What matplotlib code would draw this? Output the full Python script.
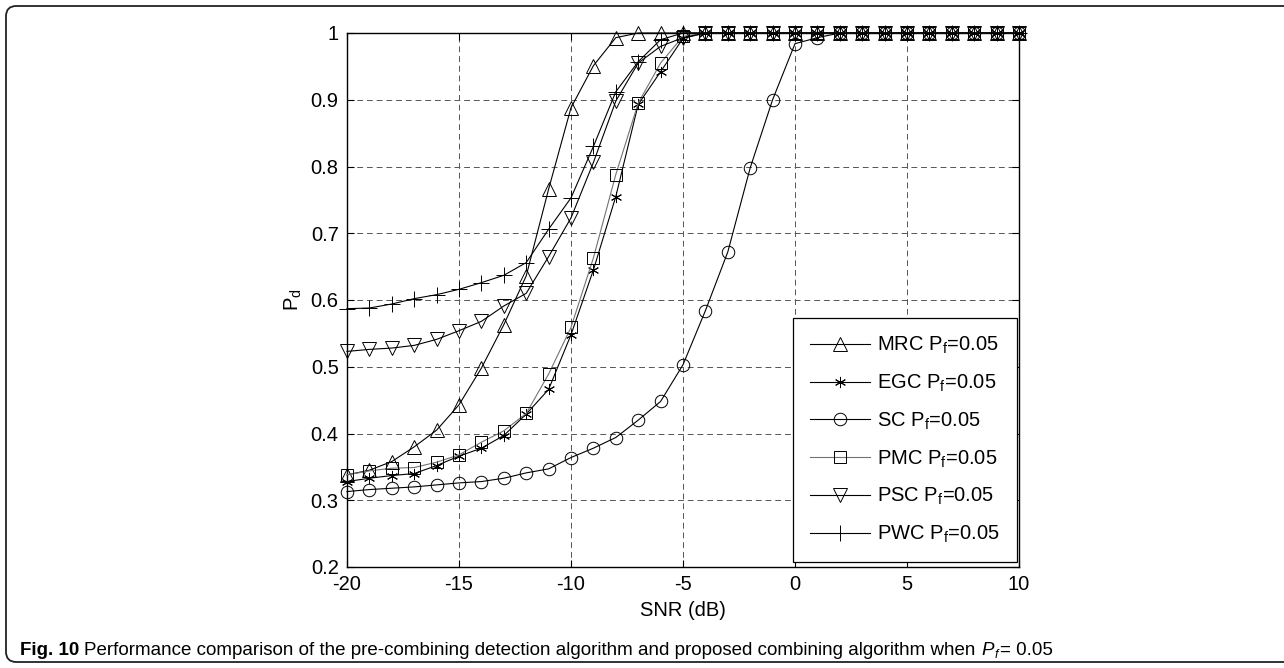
import numpy as np
import matplotlib
matplotlib.use("Agg")
import matplotlib.pyplot as plt
from matplotlib.patches import FancyBboxPatch

plt.rcParams["font.family"] = ["Liberation Sans", "DejaVu Sans"]
plt.rcParams["mathtext.fontset"] = "custom"
plt.rcParams["mathtext.rm"] = "Liberation Sans"
plt.rcParams["mathtext.it"] = "Liberation Sans:italic"
plt.rcParams["axes.unicode_minus"] = False

# SNR sweep (dB)
snr = [-20, -19, -18, -17, -16, -15, -14, -13, -12, -11, -10, -9, -8, -7, -6, -5,
       -4, -3, -2, -1, 0, 1, 2, 3, 4, 5, 6, 7, 8, 9, 10]

# detection probability for each combining scheme, Pf = 0.05
pd_mrc = [0.338, 0.345, 0.358, 0.380, 0.405, 0.443, 0.498, 0.563, 0.636, 0.766, 0.888,
          0.951, 0.993, 1.0, 1.0, 1.0, 1.0, 1.0, 1.0, 1.0, 1.0, 1.0, 1.0, 1.0, 1.0,
          1.0, 1.0, 1.0, 1.0, 1.0, 1.0]
pd_egc = [0.328, 0.333, 0.337, 0.340, 0.352, 0.366, 0.378, 0.397, 0.429, 0.466, 0.548,
          0.645, 0.755, 0.893, 0.942, 0.992, 1.0, 1.0, 1.0, 1.0, 1.0, 1.0, 1.0, 1.0,
          1.0, 1.0, 1.0, 1.0, 1.0, 1.0, 1.0]
pd_sc = [0.313, 0.316, 0.318, 0.320, 0.323, 0.326, 0.328, 0.333, 0.341, 0.347, 0.364,
         0.378, 0.394, 0.420, 0.448, 0.503, 0.584, 0.672, 0.798, 0.900, 0.984, 0.993,
         1.0, 1.0, 1.0, 1.0, 1.0, 1.0, 1.0, 1.0, 1.0]
pd_pmc = [0.338, 0.344, 0.348, 0.349, 0.357, 0.368, 0.387, 0.404, 0.430, 0.489, 0.559,
          0.663, 0.788, 0.895, 0.955, 0.995, 1.0, 1.0, 1.0, 1.0, 1.0, 1.0, 1.0, 1.0,
          1.0, 1.0, 1.0, 1.0, 1.0, 1.0, 1.0]
pd_psc = [0.523, 0.526, 0.528, 0.532, 0.541, 0.554, 0.568, 0.591, 0.610, 0.665, 0.723,
          0.806, 0.898, 0.955, 0.980, 0.993, 1.0, 1.0, 1.0, 1.0, 1.0, 1.0, 1.0, 1.0,
          1.0, 1.0, 1.0, 1.0, 1.0, 1.0, 1.0]
pd_pwc = [0.587, 0.588, 0.594, 0.602, 0.608, 0.616, 0.626, 0.637, 0.656, 0.706, 0.753,
          0.830, 0.912, 0.957, 0.990, 1.0, 1.0, 1.0, 1.0, 1.0, 1.0, 1.0, 1.0, 1.0,
          1.0, 1.0, 1.0, 1.0, 1.0, 1.0, 1.0]

names = ["MRC", "EGC", "SC", "PMC", "PSC", "PWC"]
series = [pd_mrc, pd_egc, pd_sc, pd_pmc, pd_psc, pd_pwc]
markers = ["^", (6, 2, 0), "o", "s", "v", "+"]
msizes = [10, 8, 9, 8.5, 10, 11]
lcolors = ["k", "k", "k", "0.45", "k", "k"]

W, H = 1284, 668
FS = 14.5
fig = plt.figure(figsize=(W / 100, H / 100), dpi=100)

# rounded frame around plot + caption
frame = FancyBboxPatch((6 / W, 6 / H), 1.2, (664 - 8) / H,
                       boxstyle="round,pad=0,rounding_size=0.008",
                       transform=fig.transFigure, fill=False,
                       edgecolor="#222222", linewidth=1.3,
                       mutation_aspect=W / H)
fig.patches.append(frame)

ax = fig.add_axes([347 / W, 1 - 567 / H, (1019 - 347) / W, (567 - 33) / H])

for name, vals, mk, ms, lc in zip(names, series, markers, msizes, lcolors):
    ax.plot(snr, vals, color=lc, linewidth=0.8, marker=mk, markersize=ms,
            markerfacecolor="none", markeredgecolor="k", markeredgewidth=0.7,
            label=name + r" P$_\mathregular{f}$=0.05", clip_on=False, zorder=3)

ax.set_xlim(-20, 10)
ax.set_ylim(0.2, 1)
ax.set_xticks([-20, -15, -10, -5, 0, 5, 10])
ax.set_yticks([0.2, 0.3, 0.4, 0.5, 0.6, 0.7, 0.8, 0.9, 1.0])
ax.set_yticklabels(["0.2", "0.3", "0.4", "0.5", "0.6", "0.7", "0.8", "0.9", "1"])
ax.tick_params(direction="in", length=5, width=0.8, top=True, right=True,
               labelsize=FS, pad=6)
for s in ax.spines.values():
    s.set_linewidth(1.0)
ax.grid(True, color="#555555", linewidth=0.7, linestyle=(0, (6, 4)))
ax.set_axisbelow(True)

ax.set_xlabel("SNR (dB)", fontsize=FS, labelpad=5)
ax.set_ylabel(r"P$_\mathregular{d}$", fontsize=FS, labelpad=5)

leg = ax.legend(loc="lower right", bbox_to_anchor=(1.0, 0.005), fontsize=FS,
                frameon=True, fancybox=False, edgecolor="k", framealpha=1,
                handlelength=3.0, handletextpad=0.35, labelspacing=0.82,
                borderpad=0.85, borderaxespad=0.1)
leg.get_frame().set_linewidth(0.9)

# caption: bold label followed by plain text
cap = ["Liberation Sans", "DejaVu Sans"]
cap_fs = 13.5
cap_y = 1 - 655 / H
t1 = fig.text(20 / W, cap_y, "Fig. 10", fontsize=cap_fs, fontweight="bold",
              family=cap, va="baseline")
fig.canvas.draw()
r = fig.canvas.get_renderer()
x = t1.get_window_extent(r).x1 + 5
t2 = fig.text(x / W, cap_y, "Performance comparison of the pre-combining detection "
              "algorithm and proposed combining algorithm when ",
              fontsize=cap_fs, family=cap, va="baseline")
fig.canvas.draw()
x = t2.get_window_extent(r).x1 + 1
t3 = fig.text(x / W, cap_y, "P", fontsize=cap_fs, family=cap, style="italic",
              va="baseline")
fig.canvas.draw()
x = t3.get_window_extent(r).x1
t4 = fig.text(x / W, cap_y - 3 / H, "f", fontsize=9, family=cap,
              style="italic", va="baseline")
fig.canvas.draw()
x = t4.get_window_extent(r).x1 + 2
fig.text(x / W, cap_y, "= 0.05", fontsize=cap_fs, family=cap, va="baseline")

fig.savefig("out.png", dpi=100)
